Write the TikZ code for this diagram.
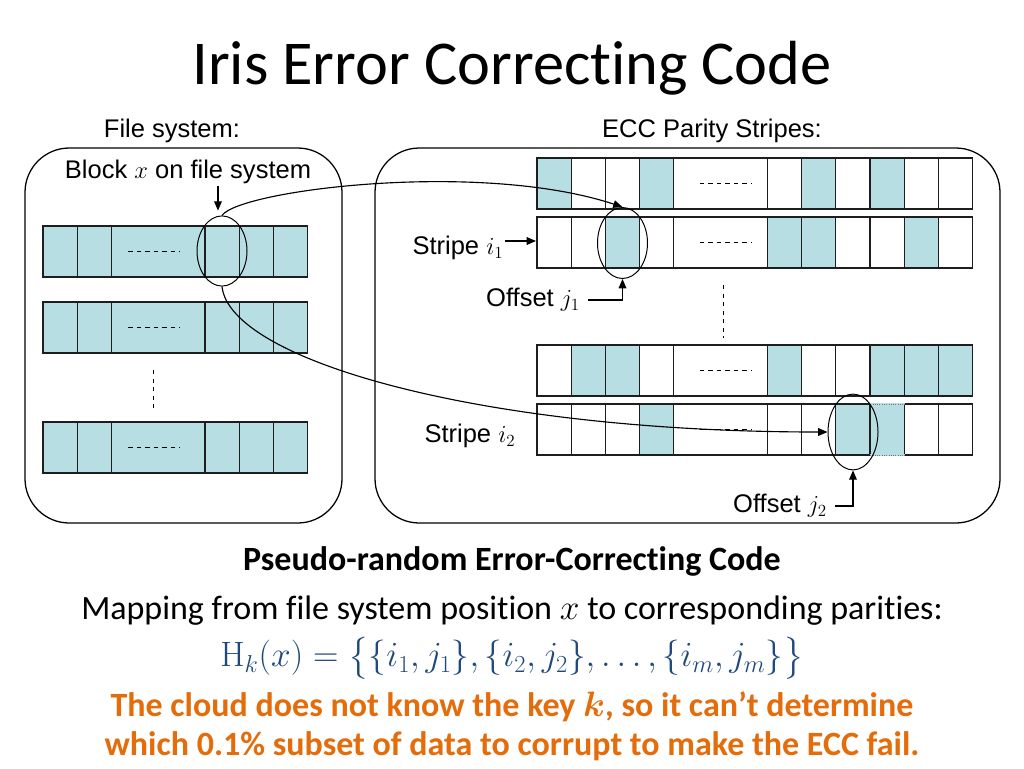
\documentclass[tikz,border=0pt]{standalone}
\usepackage{amsmath}
\usepackage[no-math]{fontspec}
\setmainfont{Carlito}[Ligatures=NoCommon]
\newfontfamily\labelfont{Liberation Sans}
\usetikzlibrary{
  shapes.geometric,
  arrows.meta,
  positioning,
  calc
}
\definecolor{tc}{RGB}{183, 222, 226}
\colorlet{wc}{white}
\definecolor{formulacolor}{RGB}{31, 73, 125}
\definecolor{notecolor}{RGB}{228, 108, 10}
\definecolor{linecolor}{RGB}{30, 30, 30}
\tikzset{
panel/.style={
  draw=black,
  line width=0.9pt,
  rounded corners=11mm
},
cellbox/.style={
  draw=linecolor,
  line width=0.8pt
},
pick/.style={
  draw=black,
  ellipse,
  line width=0.7pt,
  inner sep=0pt,
  minimum width=12.4mm,
  minimum height=17.6mm
},
lbl/.style={
  font=\labelfont\fontsize{18}{21}\selectfont,
  inner sep=1pt
},
titletext/.style={
  font=\fontsize{44}{52}\selectfont
},
bodytext/.style={
  font=\fontsize{24}{29}\selectfont,
  align=center,
  inner sep=0pt
},
arrow/.style={
  -{Triangle[length=2.3mm,width=1.9mm]},
  line width=0.8pt
}
}
% one row of blocks: x0, top y, index of wide cell, dash offset, fills
\newcommand{\cellrow}[5]{
  \foreach \f [count=\i] in {#5} {
    \pgfmathsetmacro\cx{\i<#3 ? #1+(\i-1)*34.2 : (\i==#3 ? #1+(#3-1)*34.2 : #1+(#3-1)*34.2+93.6+(\i-#3-1)*34.2)}
    \pgfmathsetmacro\cw{\i==#3 ? 93.6 : 34.2}
    \draw[cellbox, fill=\f] (\cx,#2) rectangle ++(\cw,51);
  }
  \draw[dashed, line width=0.6pt] (#1+#3*34.2-34.2+#4,#2+25.5) -- ++(52,0);
}

\begin{document}
\begin{tikzpicture}[x=0.248mm, y=-0.248mm]
\useasboundingbox (0,0) rectangle (1024,768);
\fill[white] (0,0) rectangle (1024,768);

% title
\node[titletext] (title) at (512,68) {Iris Error Correcting Code};

% panels
\draw[panel] (25,148) rectangle (342,523);
\draw[panel] (375,148) rectangle (1000,523);
\node[lbl] (fslbl) at (172,131) {File system:};
\node[lbl] (ecclbl) at (712,131) {ECC Parity Stripes:};

% file system blocks
\cellrow{43}{226}{3}{17}{tc,tc,tc,tc,tc,tc}
\cellrow{43}{302}{3}{17}{tc,tc,tc,tc,tc,tc}
\cellrow{43}{422}{3}{17}{tc,tc,tc,tc,tc,tc}
\draw[dashed, line width=0.6pt] (153,370) -- (153,410);

% parity stripes
\cellrow{537}{158}{5}{26}{tc,wc,wc,tc,wc,wc,tc,wc,tc,wc,wc}
\cellrow{537}{217}{5}{26}{wc,wc,tc,wc,wc,tc,tc,wc,wc,tc,wc}
\cellrow{537}{345}{5}{26}{wc,tc,tc,wc,wc,tc,wc,wc,tc,tc,tc}
\cellrow{537}{404}{5}{26}{wc,wc,wc,tc,wc,wc,wc,tc,tc,wc,wc}
\draw[tc, line width=1.2pt] (870.4,404) -- ++(34.2,0) (870.4,455) -- ++(34.2,0);
\draw[black!55, densely dotted, line width=0.6pt] (870.4,404) -- ++(34.2,0) (870.4,455) -- ++(34.2,0);
\draw[dashed, line width=0.6pt] (723,285) -- (723,338);

% picked blocks
\node[pick, minimum height=17.4mm] (blkx) at (222,251) {};
\node[pick] (par1) at (622.5,243) {};
\node[pick, minimum height=18.8mm] (par2) at (853,432) {};

% labels
\node[lbl] (blklbl) at (188,172) {Block $x$ on file system};
\node[lbl] (stripeA) at (458,248) {Stripe $i_1$};
\node[lbl] (offA) at (533,300) {Offset $j_1$};
\node[lbl] (stripeB) at (470,436) {Stripe $i_2$};
\node[lbl] (offB) at (780,506) {Offset $j_2$};
\coordinate (rowA) at (536,241);

% connectors
\draw[arrow] ([xshift=-1mm]blkx.north |- blklbl.south) -- ([xshift=-1mm,yshift=1.2mm]blkx.north);
\draw[arrow] (stripeA.east |- rowA) -- (rowA);
\draw[arrow] ([xshift=1.5mm]offA.east) -| (par1.south);
\draw[arrow] ([xshift=1.5mm]offB.east) -| (par2.south);
\draw[arrow] (blkx.north) .. controls (240,190) and (480,160) .. (par1.north);
\draw[arrow] (blkx.south) .. controls (230,360) and (480,432) .. (par2.west);

% text below
\node[bodytext, font=\bfseries\fontsize{24}{29}\selectfont] (subhead) at (512,561) {Pseudo-random Error-Correcting Code};
\node[bodytext] (mapping) at (512,611) {Mapping from file system position $x$ to corresponding parities:};
\node[bodytext, text=formulacolor, font=\fontsize{23}{27}\selectfont] (formula) at (512,658) {$\mathrm{H}_k(x) = \bigl\{\{i_1,j_1\},\{i_2,j_2\},\ldots,\{i_m,j_m\}\bigr\}$};
\node[bodytext, text=notecolor, font=\bfseries\fontsize{24}{27.5}\selectfont] (note) at (512,726) {The cloud does not know the key $\boldsymbol{k}$, so it can’t determine\\which 0.1\% subset of data to corrupt to make the ECC fail.};
\end{tikzpicture}
\end{document}
